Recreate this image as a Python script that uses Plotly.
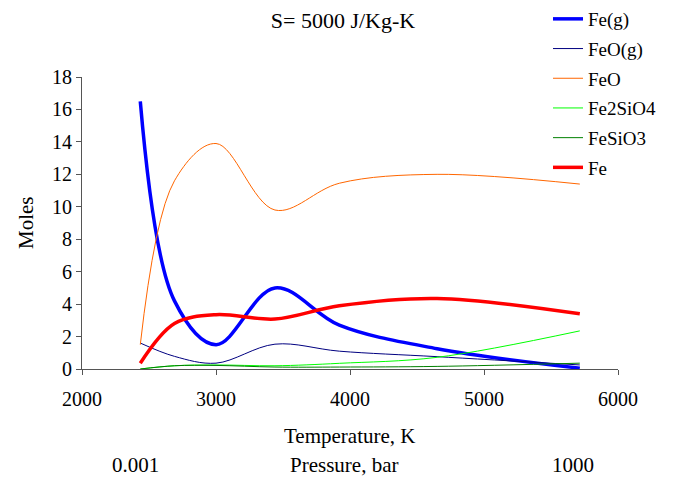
import plotly.graph_objects as go

temperature = [2435, 2690, 3000, 3440, 3920, 4650, 5715]
fe_g = [16.5, 4.2, 1.5, 5.0, 2.7, 1.25, 0.05]
feo_g = [1.6, 0.78, 0.36, 1.53, 1.1, 0.76, 0.25]
feo = [1.5, 11.6, 13.9, 9.8, 11.45, 12.0, 11.4]
fe2sio4 = [0.0, 0.2, 0.25, 0.2, 0.35, 0.72, 2.35]
fesio3 = [0.0, 0.2, 0.22, 0.12, 0.12, 0.16, 0.36]
fe = [0.35, 2.8, 3.35, 3.08, 3.9, 4.35, 3.4]

series = [
    ("Fe(g)", fe_g, "#0000FF", 3.5),
    ("FeO(g)", feo_g, "#000080", 1),
    ("FeO", feo, "#FF6600", 1),
    ("Fe2SiO4", fe2sio4, "#00FF00", 1),
    ("FeSiO3", fesio3, "#008000", 1),
    ("Fe", fe, "#FF0000", 3.5),
]

x_ticks = [2000, 3000, 4000, 5000, 6000]
y_ticks = list(range(0, 19, 2))
pressure_labels = ["0.001", "Pressure, bar", "1000"]

OFF = 8  # page body margin
W, H = 679 - OFF, 477 - OFF
L, T = 82 - OFF, 77 - OFF
R = W - (618 - OFF)
B = H - (369 - OFF)
PW, PH = W - L - R, H - T - B

def px_x(p):
    return (p - OFF - L) / PW

def px_y(p):
    return (H - B - (p - OFF)) / PH

font_family = "Liberation Serif"

fig = go.Figure()
for name, vals, color, width in series:
    fig.add_trace(go.Scatter(
        x=temperature, y=vals, name=name, mode="lines", legendgroup=name,
        line=dict(color=color, width=width, shape="spline", smoothing=1),
    ))

fig.update_layout(
    width=W, height=H,
    margin=dict(l=L, r=R, t=T, b=B, autoexpand=False),
    paper_bgcolor="white", plot_bgcolor="white",
    font=dict(family=font_family, size=20, color="black"),
    title=dict(text="S= 5000 J/Kg-K", x=px_x(343), xref="paper", xanchor="center",
               y=1 - (20 - OFF) / H, yref="container", yanchor="middle",
               font=dict(family=font_family, size=22)),
    showlegend=True,
    legend=dict(x=px_x(548), y=px_y(0), xanchor="left", yanchor="top",
                font=dict(family=font_family, size=19),
                tracegroupgap=2, itemwidth=30, bgcolor="rgba(0,0,0,0)"),
    xaxis=dict(range=[2000, 6000], tickvals=x_ticks, showgrid=False, zeroline=False,
               showline=True, linecolor="#555555", linewidth=1,
               ticks="outside", ticklen=5, tickcolor="#555555",
               tickfont=dict(size=20), ticklabelstandoff=7, automargin=False),
    yaxis=dict(range=[0, 18], tickvals=y_ticks, showgrid=False, zeroline=False,
               showline=True, linecolor="#555555", linewidth=1,
               ticks="outside", ticklen=5, tickcolor="#555555",
               tickfont=dict(size=20), automargin=False),
)

# axis titles
fig.add_annotation(text="Temperature, K", x=px_x(349), y=px_y(436), xref="paper", yref="paper",
                   showarrow=False, xanchor="center", yanchor="middle",
                   font=dict(family=font_family, size=21))
fig.add_annotation(text="Moles", x=px_x(26), y=px_y(223), xref="paper", yref="paper",
                   showarrow=False, xanchor="center", yanchor="middle", textangle=-90,
                   font=dict(family=font_family, size=21))

# pressure row
pressure_x = [135, 344, 573]
for txt, xp in zip(pressure_labels, pressure_x):
    fig.add_annotation(text=txt, x=px_x(xp), y=px_y(465), xref="paper", yref="paper",
                       showarrow=False, xanchor="center", yanchor="middle",
                       font=dict(family=font_family, size=21))

fig.write_html("out.html")
